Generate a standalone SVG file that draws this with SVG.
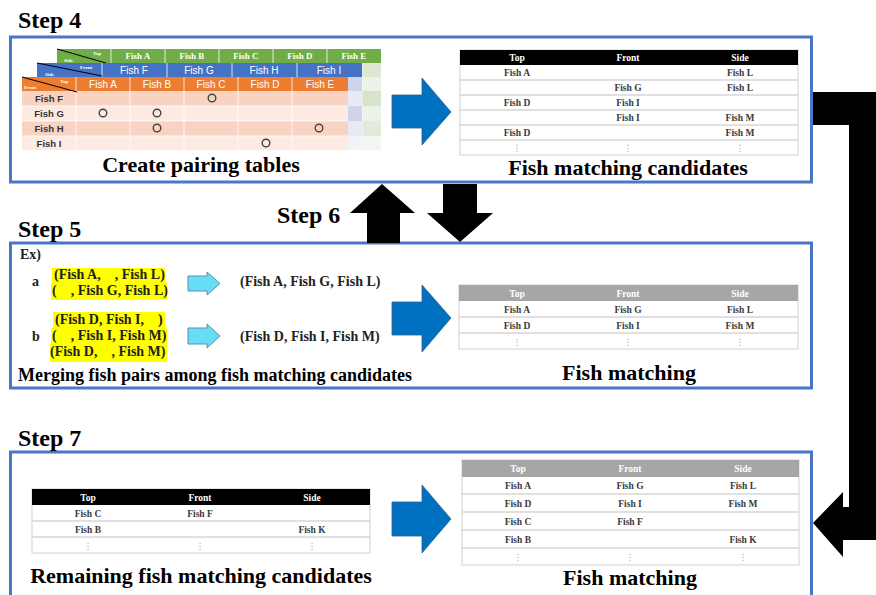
<svg xmlns="http://www.w3.org/2000/svg" width="876" height="595" viewBox="0 0 876 595">
<style>
.box{fill:#fff;stroke:#4A76C8;stroke-width:3}
.step{font-family:"Liberation Serif",serif;font-weight:bold;font-size:24px;fill:#000}
.cap{font-family:"Liberation Serif",serif;font-weight:bold;font-size:22px;fill:#000;text-anchor:middle}
.th{font-family:"Liberation Serif",serif;font-weight:bold;font-size:9.5px;fill:#fff;text-anchor:middle}
.td{font-family:"Liberation Serif",serif;font-weight:bold;font-size:9.5px;fill:#3a3a3a;text-anchor:middle}
.dots{font-family:"DejaVu Sans",sans-serif;font-size:9px;fill:#aaa;text-anchor:middle}
.rowline{stroke:#d6d6d6;stroke-width:1.5}
.outer{fill:#fff;stroke:#d0d0d0;stroke-width:1}
.sh{font-family:"Liberation Sans",Arial,sans-serif;font-size:10px;fill:#fff;text-anchor:middle}
.gh{font-family:"Liberation Serif",serif;font-weight:bold;font-size:9px;fill:#fff;text-anchor:middle}
.rl{font-family:"Liberation Sans",Arial,sans-serif;font-weight:bold;font-size:9.5px;fill:#333;text-anchor:middle}
.tiny{font-family:"Liberation Serif",serif;font-weight:bold;font-size:5px;fill:#fff}
.ex{font-family:"Liberation Serif",serif;font-weight:bold;font-size:14px;fill:#222}
.blue{fill:#0070C0;stroke:#2F5F8F;stroke-width:0.8}
.cyan{fill:#66DDF5;stroke:#5B8FAE;stroke-width:1}
.blk{fill:#000}
.circ{fill:none;stroke:#444;stroke-width:1.4}
.wl{stroke:#fff;stroke-width:0.8}
</style>

<!-- Step boxes -->
<g id="step4">
  <rect class="box" x="10.5" y="37" width="801" height="145"/>
  <text class="step" x="18" y="28">Step 4</text>
</g>
<g id="step5">
  <rect class="box" x="10.5" y="243" width="801" height="145"/>
  <text class="step" x="18" y="237">Step 5</text>
</g>
<g id="step6">
  <text class="step" x="277" y="223">Step 6</text>
</g>
<g id="step7">
  <rect class="box" x="10.5" y="452" width="801" height="146"/>
  <text class="step" x="18" y="446">Step 7</text>
</g>

<!-- Pairing tables -->
<g id="pairing-tables">
  <!-- green (back) -->
  <rect x="57" y="63" width="324" height="14" fill="#DCE8D3"/>
  <rect x="57" y="77" width="324" height="14" fill="#EDF2E8"/>
  <rect x="57" y="91" width="324" height="15" fill="#D6E4CC"/>
  <rect x="57" y="106" width="324" height="15" fill="#EDF2E8"/>
  <rect x="57" y="121" width="324" height="15" fill="#E2EBDB"/>
  <rect x="57" y="136" width="324" height="14" fill="#F3F6F0"/>
  <line class="wl" x1="362" y1="63" x2="362" y2="150"/>
  <rect x="57" y="49" width="324" height="14" fill="#70AD47"/>
  <line class="wl" x1="111" y1="49" x2="111" y2="63"/>
  <line class="wl" x1="165" y1="49" x2="165" y2="63"/>
  <line class="wl" x1="219" y1="49" x2="219" y2="63"/>
  <line class="wl" x1="273" y1="49" x2="273" y2="63"/>
  <line class="wl" x1="327" y1="49" x2="327" y2="63"/>
  <line x1="57" y1="49" x2="106" y2="63" stroke="#000" stroke-width="1"/>
  <text class="tiny" x="93" y="55">Top</text>
  <text class="tiny" x="64" y="62">Side</text>
  <text class="gh" x="138" y="59">Fish A</text>
  <text class="gh" x="192" y="59">Fish B</text>
  <text class="gh" x="246" y="59">Fish C</text>
  <text class="gh" x="300" y="59">Fish D</text>
  <text class="gh" x="354" y="59">Fish E</text>

  <!-- blue (middle) -->
  <rect x="37" y="77" width="325" height="14" fill="#CED5EA"/>
  <rect x="37" y="91" width="325" height="15" fill="#E8EBF5"/>
  <rect x="37" y="106" width="325" height="15" fill="#CED5EA"/>
  <rect x="37" y="121" width="325" height="15" fill="#E8EBF5"/>
  <rect x="37" y="136" width="325" height="14" fill="#F1F3F9"/>
  <rect x="37" y="63" width="325" height="14" fill="#4472C4"/>
  <line class="wl" x1="102" y1="63" x2="102" y2="77"/>
  <line class="wl" x1="167" y1="63" x2="167" y2="77"/>
  <line class="wl" x1="232" y1="63" x2="232" y2="77"/>
  <line class="wl" x1="297" y1="63" x2="297" y2="77"/>
  <line x1="37" y1="63" x2="102" y2="76" stroke="#000" stroke-width="1"/>
  <text class="tiny" x="80" y="69">Front</text>
  <text class="tiny" x="45" y="76">Side</text>
  <text class="sh" x="134" y="74">Fish F</text>
  <text class="sh" x="199" y="74">Fish G</text>
  <text class="sh" x="264" y="74">Fish H</text>
  <text class="sh" x="329" y="74">Fish I</text>

  <!-- orange (front) -->
  <rect x="22" y="91" width="326" height="15" fill="#F9D3C2"/>
  <rect x="22" y="106" width="326" height="15" fill="#FCEAE3"/>
  <rect x="22" y="121" width="326" height="15" fill="#F9D3C2"/>
  <rect x="22" y="136" width="326" height="14" fill="#FCEAE3"/>
  <rect x="22" y="77" width="326" height="14" fill="#ED7D31"/>
  <g class="wl">
    <line x1="76" y1="77" x2="76" y2="150"/>
    <line x1="130" y1="77" x2="130" y2="150"/>
    <line x1="184" y1="77" x2="184" y2="150"/>
    <line x1="238" y1="77" x2="238" y2="150"/>
    <line x1="292" y1="77" x2="292" y2="150"/>
    <line x1="22" y1="106" x2="348" y2="106"/>
    <line x1="22" y1="121" x2="348" y2="121"/>
    <line x1="22" y1="136" x2="348" y2="136"/>
  </g>
  <line x1="22" y1="77" x2="77" y2="92" stroke="#000" stroke-width="1"/>
  <text class="tiny" x="60" y="83">Top</text>
  <text class="tiny" x="24" y="89">Front</text>
  <text class="sh" x="103" y="88">Fish A</text>
  <text class="sh" x="157" y="88">Fish B</text>
  <text class="sh" x="211" y="88">Fish C</text>
  <text class="sh" x="265" y="88">Fish D</text>
  <text class="sh" x="320" y="88">Fish E</text>
  <text class="rl" x="49" y="102">Fish F</text>
  <text class="rl" x="49" y="117">Fish G</text>
  <text class="rl" x="49" y="132">Fish H</text>
  <text class="rl" x="49" y="147">Fish I</text>
  <circle class="circ" cx="212" cy="98" r="3.8"/>
  <circle class="circ" cx="103" cy="113" r="3.8"/>
  <circle class="circ" cx="157" cy="113" r="3.8"/>
  <circle class="circ" cx="157" cy="128" r="3.8"/>
  <circle class="circ" cx="319" cy="128" r="3.8"/>
  <circle class="circ" cx="266" cy="143" r="3.8"/>
  <text class="cap" x="201" y="172">Create pairing tables</text>
</g>

<!-- Fish matching candidates table -->
<g id="candidates">
  <rect class="outer" x="460" y="50" width="338" height="105"/>
  <rect x="460" y="50" width="338" height="15" fill="#000"/>
  <g class="rowline">
    <line x1="460" y1="80" x2="798" y2="80"/>
    <line x1="460" y1="95" x2="798" y2="95"/>
    <line x1="460" y1="110" x2="798" y2="110"/>
    <line x1="460" y1="125" x2="798" y2="125"/>
    <line x1="460" y1="140" x2="798" y2="140"/>
  </g>
  <text class="th" x="517" y="61">Top</text>
  <text class="th" x="628" y="61">Front</text>
  <text class="th" x="740" y="61">Side</text>
  <text class="td" x="517" y="76">Fish A</text><text class="td" x="740" y="76">Fish L</text>
  <text class="td" x="628" y="91">Fish G</text><text class="td" x="740" y="91">Fish L</text>
  <text class="td" x="517" y="106">Fish D</text><text class="td" x="628" y="106">Fish I</text>
  <text class="td" x="628" y="121">Fish I</text><text class="td" x="740" y="121">Fish M</text>
  <text class="td" x="517" y="136">Fish D</text><text class="td" x="740" y="136">Fish M</text>
  <text class="dots" x="517" y="151">⋮</text><text class="dots" x="628" y="151">⋮</text><text class="dots" x="740" y="151">⋮</text>
  <text class="cap" x="628" y="175">Fish matching candidates</text>
</g>

<!-- Step 5 merging -->
<g id="merging">
  <text class="ex" x="20" y="259" font-size="11">Ex)</text>
  <text class="ex" x="32" y="286" font-size="12">a</text>
  <rect x="52" y="268" width="113" height="15" fill="#FFFF00"/>
  <rect x="51" y="283" width="116" height="17" fill="#FFFF00"/>
  <text class="ex" x="54" y="279" xml:space="preserve">(Fish A,    , Fish L)</text>
  <text class="ex" x="52" y="295" xml:space="preserve">(    , Fish G, Fish L)</text>
  <text class="ex" x="240" y="286">(Fish A, Fish G, Fish L)</text>
  <text class="ex" x="32" y="341" font-size="12">b</text>
  <rect x="53" y="312" width="112" height="16" fill="#FFFF00"/>
  <rect x="51" y="328" width="116" height="16" fill="#FFFF00"/>
  <rect x="50" y="344" width="117" height="18" fill="#FFFF00"/>
  <text class="ex" x="55" y="324" xml:space="preserve">(Fish D, Fish I,    )</text>
  <text class="ex" x="52" y="340" xml:space="preserve">(    , Fish I, Fish M)</text>
  <text class="ex" x="50" y="356" xml:space="preserve">(Fish D,    , Fish M)</text>
  <text class="ex" x="240" y="341">(Fish D, Fish I, Fish M)</text>
  <text x="18" y="381" font-family="Liberation Serif, serif" font-weight="bold" font-size="18" fill="#000">Merging fish pairs among fish matching candidates</text>
</g>

<!-- Step 5 fish matching table -->
<g id="matching5">
  <rect class="outer" x="459" y="285" width="339" height="64"/>
  <rect x="459" y="285" width="339" height="16" fill="#A6A6A6"/>
  <g class="rowline">
    <line x1="459" y1="317" x2="798" y2="317"/>
    <line x1="459" y1="333" x2="798" y2="333"/>
  </g>
  <text class="th" x="517" y="297" fill="#f2f2f2">Top</text>
  <text class="th" x="628" y="297">Front</text>
  <text class="th" x="740" y="297">Side</text>
  <text class="td" x="517" y="313">Fish A</text><text class="td" x="628" y="313">Fish G</text><text class="td" x="740" y="313">Fish L</text>
  <text class="td" x="517" y="329">Fish D</text><text class="td" x="628" y="329">Fish I</text><text class="td" x="740" y="329">Fish M</text>
  <text class="dots" x="517" y="345">⋮</text><text class="dots" x="628" y="345">⋮</text><text class="dots" x="740" y="345">⋮</text>
  <text class="cap" x="629" y="380">Fish matching</text>
</g>

<!-- Step 7 remaining table -->
<g id="remaining">
  <rect class="outer" x="32" y="489" width="338" height="64"/>
  <rect x="32" y="489" width="338" height="16" fill="#000"/>
  <g class="rowline">
    <line x1="32" y1="521" x2="370" y2="521"/>
    <line x1="32" y1="537" x2="370" y2="537"/>
  </g>
  <text class="th" x="88" y="501">Top</text>
  <text class="th" x="200" y="501">Front</text>
  <text class="th" x="312" y="501">Side</text>
  <text class="td" x="88" y="517">Fish C</text><text class="td" x="200" y="517">Fish F</text>
  <text class="td" x="88" y="533">Fish B</text><text class="td" x="312" y="533">Fish K</text>
  <text class="dots" x="88" y="549">⋮</text><text class="dots" x="200" y="549">⋮</text><text class="dots" x="312" y="549">⋮</text>
  <text class="cap" x="201" y="583">Remaining fish matching candidates</text>
</g>

<!-- Step 7 fish matching table -->
<g id="matching7">
  <rect class="outer" x="462" y="460" width="337" height="105"/>
  <rect x="462" y="460" width="337" height="17" fill="#A6A6A6"/>
  <g class="rowline">
    <line x1="462" y1="494" x2="799" y2="494"/>
    <line x1="462" y1="512" x2="799" y2="512"/>
    <line x1="462" y1="530" x2="799" y2="530"/>
    <line x1="462" y1="548" x2="799" y2="548"/>
  </g>
  <text class="th" x="518" y="472">Top</text>
  <text class="th" x="630" y="472">Front</text>
  <text class="th" x="743" y="472">Side</text>
  <text class="td" x="518" y="489">Fish A</text><text class="td" x="630" y="489">Fish G</text><text class="td" x="743" y="489">Fish L</text>
  <text class="td" x="518" y="507">Fish D</text><text class="td" x="630" y="507">Fish I</text><text class="td" x="743" y="507">Fish M</text>
  <text class="td" x="518" y="525">Fish C</text><text class="td" x="630" y="525">Fish F</text>
  <text class="td" x="518" y="543">Fish B</text><text class="td" x="743" y="543">Fish K</text>
  <text class="dots" x="518" y="560">⋮</text><text class="dots" x="630" y="560">⋮</text><text class="dots" x="743" y="560">⋮</text>
  <text class="cap" x="630" y="585">Fish matching</text>
</g>

<!-- Connectors -->
<g id="connectors">
  <polygon class="blue" points="392,95 422,95 422,78 451,112 422,145 422,128 392,128"/>
  <polygon class="blue" points="392,302 422,302 422,285 451,318 422,352 422,335 392,335"/>
  <polygon class="blue" points="392,502 422,502 422,485 451,519 422,553 422,536 392,536"/>
  <polygon class="cyan" points="188,276 207,276 207,272 220,283.5 207,295 207,291 188,291"/>
  <polygon class="cyan" points="188,328 207,328 207,324 220,336 207,348 207,344 188,344"/>
  <polygon class="blk" points="382,184 415,213 400,213 400,243 367,243 367,213 350,213"/>
  <polygon class="blk" points="443,184 477,184 477,213 493,213 460,242 427,213 443,213"/>
  <polygon class="blk" points="813,92 880,92 880,540 843,540 843,557 813,523 843,492 843,507 849,507 849,125 813,125"/>
</g>
</svg>
